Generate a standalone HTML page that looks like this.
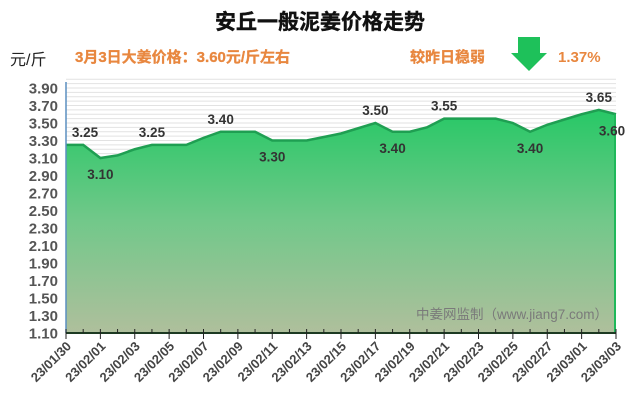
<!DOCTYPE html>
<html><head><meta charset="utf-8"><style>
body{margin:0;background:#fff;}
svg{display:block;font-family:"Liberation Sans","Noto Sans CJK SC",sans-serif;}
</style></head><body>
<svg id="chart" width="640" height="410" viewBox="0 0 640 410">
<defs>
<linearGradient id="fillg" x1="0" y1="0" x2="0" y2="1">
<stop offset="0" stop-color="#27c866"/>
<stop offset="0.5" stop-color="#72c88a"/>
<stop offset="1" stop-color="#afbf9c"/>
</linearGradient>
</defs>
<text x="320" y="29" text-anchor="middle" font-size="21" font-weight="bold" fill="#111" stroke="#111" stroke-width="0.4">安丘一般泥姜价格走势</text>
<text x="10" y="65" font-size="16" fill="#222">元/斤</text>
<text x="75" y="62" font-size="15" font-weight="bold" fill="#e8873f" stroke="#e8873f" stroke-width="0.3">3月3日大姜价格：3.60元/斤左右</text>
<text x="410" y="62" font-size="15" font-weight="bold" fill="#e8873f" stroke="#e8873f" stroke-width="0.3">较昨日稳弱</text>
<polygon points="518,37 540,37 540,53 547,53 529,71 511,53 518,53" fill="#1ec15a"/>
<text x="558" y="62" font-size="15" font-weight="bold" fill="#e8873f">1.37%</text>
<g id="grid"></g>
<g id="plot"></g>
<g id="axes"></g>
<text x="608" y="319" text-anchor="end" font-size="13.5" fill="#7a7a7a">中姜网监制（www.jiang7.com）</text>
</svg>
<script>
const dates=["23/01/30","23/02/01","23/02/03","23/02/05","23/02/07","23/02/09","23/02/11","23/02/13","23/02/15","23/02/17","23/02/19","23/02/21","23/02/23","23/02/25","23/02/27","23/03/01","23/03/03"];
const prices=[3.25,3.25,3.10,3.13,3.20,3.25,3.25,3.25,3.33,3.40,3.40,3.40,3.30,3.30,3.30,3.34,3.38,3.44,3.50,3.40,3.40,3.45,3.55,3.55,3.55,3.55,3.50,3.40,3.48,3.54,3.60,3.65,3.60];
const yTicks=[3.90,3.70,3.50,3.30,3.10,2.90,2.70,2.50,2.30,2.10,1.90,1.70,1.50,1.30,1.10];
const labelIdx=[0,2,5,9,12,18,19,22,27,31,32];
const labelAbove=[true,false,true,true,false,true,false,true,false,true,false];

const NS="http://www.w3.org/2000/svg";
const X0=66,X1=616,Y0=333,YMIN=1.10,YMAX=3.90,YT=88;
const nDays=(dates.length-1)*2;
function x(i){return X0+(X1-X0)*i/nDays;}
function y(v){return Y0-(v-YMIN)/(YMAX-YMIN)*(Y0-YT);}
function mk(tag,attrs,parent){const e=document.createElementNS(NS,tag);for(const k in attrs)e.setAttribute(k,attrs[k]);parent.appendChild(e);return e;}
const grid=document.getElementById('grid'),plot=document.getElementById('plot'),axes=document.getElementById('axes');
for(let v=YMIN;v<=4.0001;v+=0.05){
 const l=mk('line',{x1:X0,x2:X1,y1:y(v),y2:y(v),stroke:'#e2e2e2','stroke-width':1},grid);
 
 
}
let d='M'+x(0)+','+Y0;
prices.forEach((p,i)=>{d+=' L'+x(i)+','+y(p);});
d+=' L'+x(prices.length-1)+','+Y0+' Z';
const area=mk('path',{d:d,fill:'url(#fillg)'},plot);


const line=mk('polyline',{points:prices.map((p,i)=>x(i)+','+y(p)).join(' '),fill:'none',stroke:'#1f9f52','stroke-width':2.5},plot);


const rb=mk('line',{x1:X1-1,x2:X1-1,y1:y(prices[prices.length-1]),y2:Y0,stroke:'#1fb85a','stroke-width':2},plot);


labelIdx.forEach((idx,k)=>{
 const t=mk('text',{x:x(idx)+(idx===0?19:idx===32?-4:0),y:labelAbove[k]?y(prices[idx])-8:y(prices[idx])+21,'text-anchor':'middle','font-size':13.5,'font-weight':'bold',fill:'#333'},plot);
 t.textContent=prices[idx].toFixed(2);
 
 
});
const ya=mk('line',{x1:X0,x2:X0,y1:82,y2:Y0,stroke:'#5b8fc0','stroke-width':1.5},axes);


const xa=mk('line',{x1:X0,x2:X1,y1:Y0,y2:Y0,stroke:'#1d3a22','stroke-width':2},axes);


yTicks.forEach(v=>{
 const t=mk('text',{x:58,y:y(v)+5.5,'text-anchor':'end','font-size':15,'font-weight':'bold',fill:'#555'},axes);
 t.textContent=v.toFixed(2);
 
 
});
for(let i=0;i<=nDays;i++){
 const tk=mk('line',{x1:x(i),x2:x(i),y1:Y0-4,y2:Y0+(i%2===0?6:0),stroke:'#222','stroke-width':1},axes);
 
 
}
dates.forEach((s,i)=>{
 const xx=x(i*2)+6,yy=Y0+14;
 const t=mk('text',{x:xx,y:yy,'text-anchor':'end','font-size':13,'font-weight':'bold',fill:'#444',transform:'rotate(-45 '+xx+' '+yy+')'},axes);
 t.textContent=s;
 
 
});
</script>
</body></html>
